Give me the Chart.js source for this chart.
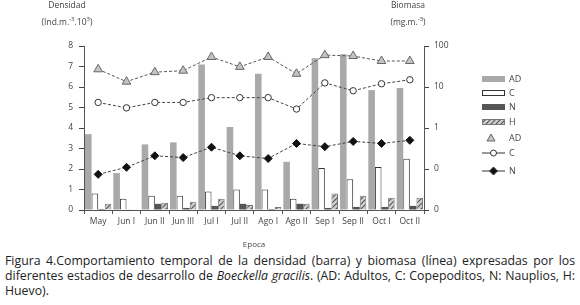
<!DOCTYPE html>
<html lang="es">
<head>
<meta charset="UTF-8">
<title>Boeckella gracilis</title>
<script src="https://cdn.jsdelivr.net/npm/chart.js@4.4.1/dist/chart.umd.min.js"></script>
<style>
  body {margin:0; background:#fff; width:580px; height:305px; position:relative; overflow:hidden; font-family:"Open Sans", sans-serif;}
  #wrap {position:absolute; left:0; top:0; width:580px; height:250px;}
  .hdr {position:absolute; font-size:8.5px; color:#444; text-align:center; white-space:nowrap;}
  #caption {position:absolute; left:5px; top:253px; width:570px; font-size:12.3px; line-height:15px; color:#222; text-align:justify;}
</style>
</head>
<body>
<div id="wrap"><canvas id="chart" width="580" height="250"></canvas></div>
<div class="hdr" style="left:37px;top:-1px;width:60px;">Densidad</div>
<div class="hdr" style="left:27px;top:15px;width:80px;">(Ind.m.<sup style="font-size:6px">-3</sup>.10<sup style="font-size:6px">3</sup>)</div>
<div class="hdr" style="left:378px;top:-1px;width:60px;">Biomasa</div>
<div class="hdr" style="left:378px;top:15px;width:60px;">(mg.m.<sup style="font-size:6px">-3</sup>)</div>
<div id="caption">Figura 4.Comportamiento temporal de la densidad (barra) y biomasa (línea) expresadas por los diferentes estadios de desarrollo de <i>Boeckella gracilis</i>. (AD: Adultos, C: Copepoditos, N: Nauplios, H: Huevo).</div>

<script>
// epocas de muestreo
const epocas = ['May','Jun I','Jun II','Jun III','Jul I','Jul II','Ago I','Ago II','Sep I','Sep II','Oct I','Oct II'];

// densidad (Ind.m-3.10^3) - barras
const densAD = [3.7, 1.8, 3.2, 3.3, 7.1, 4.05, 6.65, 2.35, 7.4, 7.6, 5.85, 5.95];
const densC  = [0.8, 0.55, 0.7, 0.7, 0.9, 1.0, 1.0, 0.55, 2.05, 1.5, 2.1, 2.5];
const densN  = [0.05, 0.02, 0.3, 0.1, 0.2, 0.3, 0.05, 0.3, 0.1, 0.15, 0.15, 0.2];
const densH  = [0.3, 0, 0.35, 0.4, 0.55, 0.25, 0.15, 0.3, 0.8, 0.7, 0.6, 0.6];

// biomasa (mg.m-3) - lineas, escala log
const bioAD = [27, 13.5, 23, 25, 54, 31, 54, 21, 60, 57, 43, 43];
const bioC  = [4.2, 3.1, 4.2, 4.2, 5.5, 5.5, 5.5, 2.9, 12.6, 8.1, 12, 15];
const bioN  = [0.074, 0.11, 0.21, 0.19, 0.34, 0.21, 0.18, 0.42, 0.35, 0.47, 0.42, 0.5];

const leftTicks = [0,1,2,3,4,5,6,7,8];
const rightTicks = [0.01, 0.1, 1, 10, 100];
const rightLabels = ['0', '0', '1', '10', '100'];

// hatch pattern for H
function hatch() {
  const c = document.createElement('canvas');
  c.width = 5; c.height = 5;
  const g = c.getContext('2d');
  g.fillStyle = '#d0d0d0'; g.fillRect(0,0,5,5);
  g.strokeStyle = '#555'; g.lineWidth = 1.2;
  g.beginPath(); g.moveTo(0,5); g.lineTo(5,0); g.moveTo(-1,1); g.lineTo(1,-1); g.moveTo(4,6); g.lineTo(6,4); g.stroke();
  return g.createPattern(c, 'repeat');
}
const hatchFill = hatch();

const tickFont = {family: 'Open Sans', size: 8.5};

// draws the legend on the right
const legendPlugin = {
  id: 'sideLegend',
  afterDraw(chart) {
    const ctx = chart.ctx;
    const x0 = 482, x1 = 505, tx = 509;
    const rows = [
      {y: 79, kind: 'bar', fill: '#a9a9a9', stroke: '#a9a9a9', txt: 'AD'},
      {y: 93, kind: 'bar', fill: '#fff', stroke: '#333', txt: 'C'},
      {y: 107, kind: 'bar', fill: '#555', stroke: '#555', txt: 'N'},
      {y: 122, kind: 'bar', fill: hatchFill, stroke: '#777', txt: 'H'},
      {y: 138, kind: 'tri', txt: 'AD'},
      {y: 153, kind: 'circ', txt: 'C'},
      {y: 171, kind: 'dia', txt: 'N'}
    ];
    ctx.save();
    ctx.font = '9px "Open Sans"';
    ctx.textBaseline = 'middle';
    rows.forEach(r => {
      if (r.kind === 'bar') {
        ctx.fillStyle = r.fill;
        ctx.fillRect(x0, r.y - 3, x1 - x0, 6);
        ctx.strokeStyle = r.stroke; ctx.lineWidth = 1;
        ctx.strokeRect(x0 + 0.5, r.y - 2.5, x1 - x0 - 1, 5);
      } else if (r.kind === 'tri') {
        const cx = 491;
        ctx.beginPath();
        ctx.moveTo(cx, r.y - 4); ctx.lineTo(cx + 4, r.y + 3); ctx.lineTo(cx - 4, r.y + 3); ctx.closePath();
        ctx.fillStyle = '#c4c4c4'; ctx.fill();
        ctx.strokeStyle = '#666'; ctx.stroke();
      } else {
        ctx.strokeStyle = '#333'; ctx.lineWidth = 1;
        ctx.beginPath(); ctx.moveTo(x0, r.y); ctx.lineTo(x1, r.y); ctx.stroke();
        const cx = (x0 + x1) / 2;
        ctx.beginPath();
        if (r.kind === 'circ') {
          ctx.arc(cx, r.y, 3, 0, Math.PI * 2);
          ctx.fillStyle = '#fff';
        } else {
          ctx.moveTo(cx, r.y - 4); ctx.lineTo(cx + 4, r.y); ctx.lineTo(cx, r.y + 4); ctx.lineTo(cx - 4, r.y); ctx.closePath();
          ctx.fillStyle = '#111';
        }
        ctx.fill(); ctx.stroke();
      }
      ctx.fillStyle = '#444';
      ctx.fillText(r.txt, tx, r.y);
    });
    ctx.restore();
  }
};

const lineBase = {type: 'line', yAxisID: 'y1', order: 0, borderWidth: 1, borderColor: '#444', borderDash: [3, 2], fill: false, tension: 0};

new Chart(document.getElementById('chart'), {
  type: 'bar',
  data: {
    labels: epocas,
    datasets: [
      {label: 'AD', data: densAD, backgroundColor: '#a9a9a9', order: 1},
      {label: 'C', data: densC, backgroundColor: '#fff', borderColor: '#333', borderWidth: 1, order: 1},
      {label: 'N', data: densN, backgroundColor: '#555', order: 1},
      {label: 'H', data: densH, backgroundColor: hatchFill, borderColor: '#777', borderWidth: 1, order: 1},
      Object.assign({}, lineBase, {label: 'AD', data: bioAD, pointStyle: 'triangle', pointRadius: 5, pointBackgroundColor: '#c4c4c4', pointBorderColor: '#666', borderColor: '#555'}),
      Object.assign({}, lineBase, {label: 'C', data: bioC, pointStyle: 'circle', pointRadius: 3.2, pointBackgroundColor: '#fff', pointBorderColor: '#333'}),
      Object.assign({}, lineBase, {label: 'N', data: bioN, pointStyle: 'rectRot', pointRadius: 4, pointBackgroundColor: '#111', pointBorderColor: '#111'})
    ]
  },
  options: {
    responsive: false,
    animation: false,
    layout: {padding: {left: 50, right: 126, top: 46, bottom: 0}},
    datasets: {bar: {barPercentage: 1, categoryPercentage: 0.93}},
    plugins: {legend: {display: false}, tooltip: {enabled: false}},
    scales: {
      x: {
        offset: true,
        grid: {display: true, offset: true, drawOnChartArea: false, tickLength: 4, color: '#555'},
        border: {color: '#555'},
        ticks: {font: tickFont, color: '#444', padding: 2, maxRotation: 0, autoSkip: false},
        title: {display: true, text: 'Epoca', font: {family: 'Open Sans', size: 8}, color: '#444', padding: {top: 4, bottom: 0}},
        afterFit: s => { s.height = 40; }
      },
      y: {
        position: 'left', min: 0, max: 8,
        afterBuildTicks: s => { s.ticks = leftTicks.map(v => ({value: v})); },
        grid: {display: true, drawOnChartArea: false, tickLength: 5, color: '#444'},
        border: {color: '#555'},
        ticks: {font: tickFont, color: '#444', padding: 6},
        afterFit: s => { s.width = 34; }
      },
      y1: {
        type: 'logarithmic', position: 'right', min: 0.01, max: 100,
        afterBuildTicks: s => { s.ticks = rightTicks.map(v => ({value: v})); },
        grid: {display: true, drawOnChartArea: false, tickLength: 5, color: '#444'},
        border: {color: '#555'},
        ticks: {font: tickFont, color: '#444', padding: 5, callback: (v) => rightLabels[rightTicks.indexOf(v)]},
        afterFit: s => { s.width = 30; }
      }
    }
  },
  plugins: [legendPlugin]
});
</script>
</body>
</html>
